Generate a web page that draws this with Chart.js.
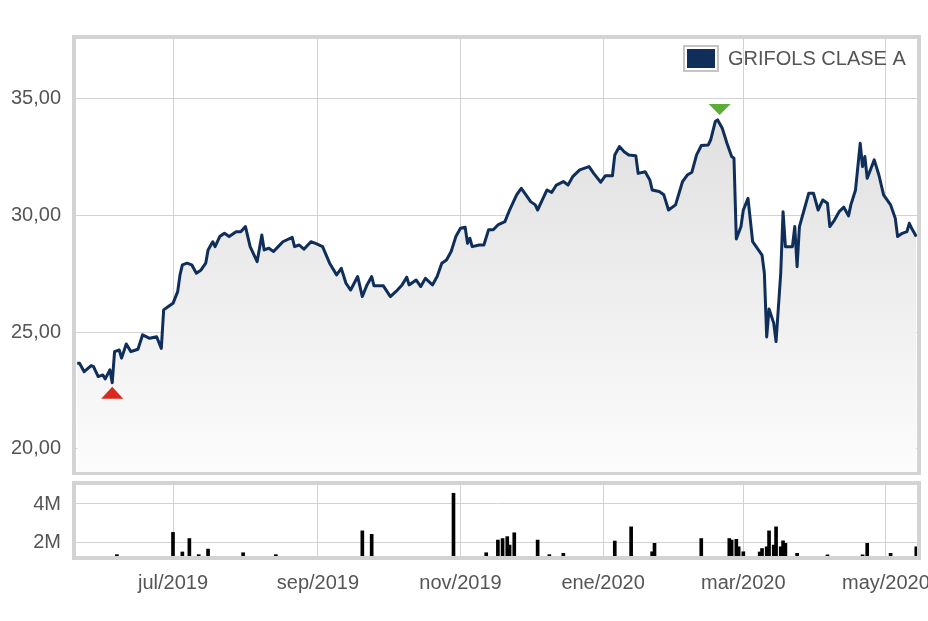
<!DOCTYPE html>
<html>
<head>
<meta charset="utf-8">
<title>GRIFOLS CLASE A</title>
<script src="https://cdn.jsdelivr.net/npm/chart.js@4.4.1/dist/chart.umd.min.js"></script>
<style>
  html, body { margin: 0; padding: 0; background: #fff; }
  #wrap { position: relative; width: 928px; height: 621px; }
  #priceChart { position: absolute; left: 0; top: 0; }
  #volChart { position: absolute; left: 0; top: 475px; }
</style>
</head>
<body>
<div id="wrap">
  <canvas id="priceChart" width="928" height="475"></canvas>
  <canvas id="volChart" width="928" height="146"></canvas>
</div>
<script>
// Price series (daily close)
const priceDates = [
  '2019-05-21','2019-05-22','2019-05-24','2019-05-27','2019-05-28','2019-05-30','2019-06-01','2019-06-02',
  '2019-06-04','2019-06-05','2019-06-06','2019-06-08','2019-06-09','2019-06-11','2019-06-13','2019-06-15',
  '2019-06-16','2019-06-18','2019-06-21','2019-06-24','2019-06-26','2019-06-27','2019-06-29','2019-07-01',
  '2019-07-03','2019-07-04','2019-07-05','2019-07-07','2019-07-09','2019-07-11','2019-07-13','2019-07-15',
  '2019-07-16','2019-07-18','2019-07-19','2019-07-21','2019-07-23','2019-07-25','2019-07-28','2019-07-30',
  '2019-08-01','2019-08-03','2019-08-06','2019-08-08','2019-08-09','2019-08-11','2019-08-13','2019-08-15',
  '2019-08-17','2019-08-21','2019-08-22','2019-08-24','2019-08-26','2019-08-29','2019-08-31','2019-09-03',
  '2019-09-06','2019-09-09','2019-09-11','2019-09-13','2019-09-15','2019-09-18','2019-09-20','2019-09-22',
  '2019-09-24','2019-09-25','2019-09-29','2019-10-02','2019-10-05','2019-10-07','2019-10-09','2019-10-10',
  '2019-10-13','2019-10-15','2019-10-17','2019-10-20','2019-10-22','2019-10-24','2019-10-26','2019-10-28',
  '2019-10-30','2019-11-01','2019-11-03','2019-11-04','2019-11-05','2019-11-06','2019-11-09','2019-11-11',
  '2019-11-13','2019-11-15','2019-11-17','2019-11-20','2019-11-22','2019-11-25','2019-11-27','2019-11-29',
  '2019-12-01','2019-12-03','2019-12-04','2019-12-06','2019-12-08','2019-12-10','2019-12-12','2019-12-15',
  '2019-12-17','2019-12-19','2019-12-22','2019-12-26','2019-12-28','2019-12-31','2020-01-02','2020-01-05',
  '2020-01-06','2020-01-08','2020-01-10','2020-01-12','2020-01-15','2020-01-16','2020-01-19','2020-01-21',
  '2020-01-22','2020-01-25','2020-01-27','2020-01-29','2020-02-01','2020-02-04','2020-02-06','2020-02-08',
  '2020-02-10','2020-02-12','2020-02-15','2020-02-16','2020-02-18','2020-02-19','2020-02-21','2020-02-23',
  '2020-02-25','2020-02-26','2020-02-27','2020-02-29','2020-03-01','2020-03-03','2020-03-04','2020-03-05',
  '2020-03-07','2020-03-09','2020-03-10','2020-03-11','2020-03-12','2020-03-14','2020-03-15','2020-03-17',
  '2020-03-18','2020-03-19','2020-03-22','2020-03-23','2020-03-24','2020-03-25','2020-03-27','2020-03-29',
  '2020-03-31','2020-04-02','2020-04-04','2020-04-06','2020-04-07','2020-04-09','2020-04-11','2020-04-13',
  '2020-04-15','2020-04-16','2020-04-18','2020-04-20','2020-04-21','2020-04-22','2020-04-23','2020-04-26',
  '2020-04-28','2020-04-30','2020-05-03','2020-05-05','2020-05-06','2020-05-08','2020-05-10','2020-05-11',
  '2020-05-12','2020-05-14'
];
const priceValues = [
  23.67, 23.67, 23.31, 23.57, 23.53, 23.10, 23.17, 23.00,
  23.39, 22.84, 24.17, 24.24, 23.89, 24.50, 24.17, 24.24,
  24.27, 24.89, 24.74, 24.81, 24.31, 25.96, 26.10, 26.24,
  26.74, 27.46, 27.89, 27.96, 27.89, 27.53, 27.67, 27.96,
  28.53, 28.88, 28.67, 29.10, 29.24, 29.10, 29.31, 29.31,
  29.53, 28.67, 28.03, 29.17, 28.53, 28.60, 28.46, 28.67,
  28.88, 29.07, 28.67, 28.74, 28.56, 28.88, 28.81, 28.67,
  27.96, 27.46, 27.74, 27.10, 26.81, 27.39, 26.53, 27.03,
  27.39, 26.99, 26.99, 26.53, 26.81, 27.03, 27.36, 27.03,
  27.24, 26.96, 27.31, 27.03, 27.39, 27.96, 28.10, 28.46,
  29.10, 29.46, 29.50, 28.81, 29.03, 28.67, 28.74, 28.74,
  29.39, 29.39, 29.60, 29.74, 30.24, 30.89, 31.17, 30.89,
  30.60, 30.46, 30.24, 30.67, 31.10, 30.99, 31.31, 31.46,
  31.31, 31.67, 31.96, 32.10, 31.81, 31.43, 31.71, 31.71,
  32.60, 32.96, 32.74, 32.60, 32.57, 31.81, 31.88, 31.53,
  31.10, 31.03, 30.89, 30.24, 30.46, 31.46, 31.74, 31.86,
  32.60, 33.00, 33.03, 33.24, 34.03, 34.10, 33.74, 33.10,
  32.53, 32.46, 29.00, 29.53, 30.24, 30.74, 29.81, 28.88,
  28.60, 28.31, 27.53, 24.80, 26.00, 25.39, 24.60, 27.53,
  30.17, 28.67, 28.67, 29.53, 27.81, 29.53, 30.24, 30.96,
  30.96, 30.24, 30.67, 30.53, 29.53, 29.81, 30.17, 30.36,
  29.99, 30.46, 31.10, 33.10, 32.10, 32.53, 31.60, 32.39,
  31.74, 30.89, 30.46, 29.89, 29.10, 29.24, 29.31, 29.67,
  29.46, 29.10
];

// Volume bars that rise above the panel floor
const volDates = [
  '2019-06-07','2019-07-01','2019-07-05','2019-07-08','2019-07-12','2019-07-16','2019-07-31','2019-08-14',
  '2019-09-20','2019-09-24','2019-10-29','2019-11-12','2019-11-17','2019-11-19','2019-11-21','2019-11-22',
  '2019-11-24','2019-12-04','2019-12-09','2019-12-15','2020-01-06','2020-01-13','2020-01-22','2020-01-23',
  '2020-02-12','2020-02-24','2020-02-25','2020-02-27','2020-02-28','2020-03-01','2020-03-08','2020-03-09',
  '2020-03-11','2020-03-12','2020-03-14','2020-03-15','2020-03-17','2020-03-18','2020-03-19','2020-03-24',
  '2020-04-06','2020-04-21','2020-04-23','2020-05-03','2020-05-14'
];
const volValues = [
  1.36e6, 2.52e6, 1.50e6, 2.20e6, 1.36e6, 1.65e6, 1.46e6, 1.36e6,
  2.60e6, 2.42e6, 4.56e6, 1.46e6, 2.12e6, 2.20e6, 2.30e6, 1.86e6,
  2.50e6, 2.12e6, 1.36e6, 1.43e6, 2.07e6, 2.81e6, 1.51e6, 1.95e6,
  2.20e6, 2.20e6, 2.12e6, 2.16e6, 1.77e6, 1.51e6, 1.50e6, 1.68e6,
  1.77e6, 2.60e6, 1.86e6, 2.81e6, 1.77e6, 2.08e6, 1.95e6, 1.43e6,
  1.35e6, 1.35e6, 1.95e6, 1.43e6, 1.77e6
];

const tickDates = ['2019-07-01', '2019-09-01', '2019-11-01', '2020-01-01', '2020-03-01', '2020-05-01'];
const tickLabels = ['jul/2019', 'sep/2019', 'nov/2019', 'ene/2020', 'mar/2020', 'may/2020'];
const priceTicks = [20, 25, 30, 35];
const volTicks = [2e6, 4e6];
const volTickLabels = ['2M', '4M'];

const seriesName = 'GRIFOLS CLASE A';

const DAY = 86400000;
const ts = s => Date.parse(s + 'T00:00:00Z');
const xMin = ts('2019-05-20') + DAY / 2;
const xMax = ts('2020-05-14') + DAY * 0.3;

const navy = '#0f2e5a';
const gridColor = '#d2d2d2';
const textColor = '#555555';

Chart.defaults.font.family = "'Liberation Sans', Arial, sans-serif";
Chart.defaults.font.size = 20;
Chart.defaults.color = textColor;

function noPadding(scale) {
    scale.paddingLeft = 0;
    scale.paddingRight = 0;
    scale.paddingTop = 0;
    scale.paddingBottom = 0;
}

function xAxis(showLabels, height) {
    return {
        type: 'linear',
        min: xMin,
        max: xMax,
        offset: false,
        afterBuildTicks: scale => {
            scale.ticks = tickDates.map(d => ({ value: ts(d) }));
        },
        afterFit: scale => {
            noPadding(scale);
            scale.height = height;
        },
        grid: { color: gridColor, lineWidth: 1, drawTicks: false, offset: false },
        border: { display: false },
        ticks: {
            display: showLabels,
            padding: 15,
            maxRotation: 0,
            autoSkip: false,
            callback: value => tickLabels[tickDates.findIndex(d => ts(d) === value)]
        }
    };
}

// frame round the plot area, like the original widget
const framePlugin = {
    id: 'frame',
    afterDraw(chart) {
        const { ctx, chartArea: a } = chart;
        ctx.save();
        ctx.strokeStyle = '#d3d3d3';
        ctx.lineWidth = 4;
        ctx.strokeRect(a.left - 2, a.top - 2, a.right - a.left + 4, a.bottom - a.top + 4);
        ctx.restore();
    }
};

// min / max markers and the legend on the price panel
const pricePlugin = {
    id: 'priceExtras',
    afterDatasetsDraw(chart) {
        const { ctx, scales: { x, y } } = chart;
        let iMin = 0, iMax = 0;
        priceValues.forEach((v, i) => {
            if (v < priceValues[iMin]) iMin = i;
            if (v > priceValues[iMax]) iMax = i;
        });
        const minX = x.getPixelForValue(ts(priceDates[iMin]));
        const minY = y.getPixelForValue(priceValues[iMin]);
        const maxX = x.getPixelForValue(ts(priceDates[iMax]));
        const maxY = y.getPixelForValue(priceValues[iMax]);
        ctx.save();
        ctx.fillStyle = '#d92a1f';
        ctx.beginPath();
        ctx.moveTo(minX, minY + 4);
        ctx.lineTo(minX + 11, minY + 16);
        ctx.lineTo(minX - 11, minY + 16);
        ctx.closePath();
        ctx.fill();
        ctx.fillStyle = '#5cac35';
        ctx.beginPath();
        ctx.moveTo(maxX + 2, maxY - 5);
        ctx.lineTo(maxX + 13, maxY - 16);
        ctx.lineTo(maxX - 9, maxY - 16);
        ctx.closePath();
        ctx.fill();
        ctx.restore();
    },
    afterDraw(chart) {
        const { ctx, chartArea: a } = chart;
        const bx = a.right - 233, by = a.top + 7;
        ctx.save();
        ctx.fillStyle = '#ffffff';
        ctx.fillRect(bx - 1, by - 1, 36, 27);
        ctx.strokeStyle = '#c4c4c4';
        ctx.lineWidth = 2;
        ctx.strokeRect(bx, by, 34, 25);
        ctx.fillStyle = navy;
        ctx.fillRect(bx + 3, by + 3, 28, 19);
        ctx.fillStyle = textColor;
        ctx.font = "20px 'Liberation Sans', Arial, sans-serif";
        ctx.textBaseline = 'middle';
        ctx.fillText(seriesName, bx + 44, by + 13);
        ctx.restore();
    }
};

new Chart(document.getElementById('priceChart'), {
    type: 'line',
    data: {
        datasets: [{
            label: seriesName,
            data: priceDates.map((d, i) => ({ x: ts(d), y: priceValues[i] })),
            borderColor: navy,
            borderWidth: 3,
            borderJoinStyle: 'round',
            pointRadius: 0,
            tension: 0,
            fill: 'start',
            backgroundColor: ctx => {
                const area = ctx.chart.chartArea;
                if (!area) return 'rgba(0,0,0,0)';
                const g = ctx.chart.ctx.createLinearGradient(0, area.top, 0, area.bottom);
                g.addColorStop(0, 'rgb(218,218,218)');
                g.addColorStop(1, 'rgb(252,252,252)');
                return g;
            }
        }]
    },
    options: {
        responsive: false,
        animation: false,
        layout: { padding: { left: 0, right: 11, top: 39, bottom: 3 } },
        plugins: { legend: { display: false }, tooltip: { enabled: false } },
        scales: {
            x: xAxis(false, 0),
            y: {
                min: 19.01,
                max: 37.57,
                afterBuildTicks: scale => {
                    scale.ticks = priceTicks.map(v => ({ value: v }));
                },
                afterFit: scale => {
                    noPadding(scale);
                    scale.width = 76;
                },
                grid: { color: gridColor, lineWidth: 1, drawTicks: false },
                border: { display: false },
                ticks: {
                    padding: 15,
                    callback: v => v.toFixed(2).replace('.', ',')
                }
            }
        }
    },
    plugins: [framePlugin, pricePlugin]
});

new Chart(document.getElementById('volChart'), {
    type: 'bar',
    data: {
        datasets: [{
            label: 'Volumen',
            data: volDates.map((d, i) => ({ x: ts(d), y: volValues[i] })),
            backgroundColor: '#000000',
            barThickness: 3
        }]
    },
    options: {
        responsive: false,
        animation: false,
        layout: { padding: { left: 0, right: 11, top: 10, bottom: 0 } },
        plugins: { legend: { display: false }, tooltip: { enabled: false } },
        scales: {
            x: xAxis(true, 65),
            y: {
                min: 1.29e6,
                max: 4.99e6,
                afterBuildTicks: scale => {
                    scale.ticks = volTicks.map(v => ({ value: v }));
                },
                afterFit: scale => {
                    noPadding(scale);
                    scale.width = 76;
                },
                grid: { color: gridColor, lineWidth: 1, drawTicks: false },
                border: { display: false },
                ticks: {
                    padding: 15,
                    callback: v => volTickLabels[volTicks.indexOf(v)]
                }
            }
        }
    },
    plugins: [framePlugin]
});
</script>
</body>
</html>
